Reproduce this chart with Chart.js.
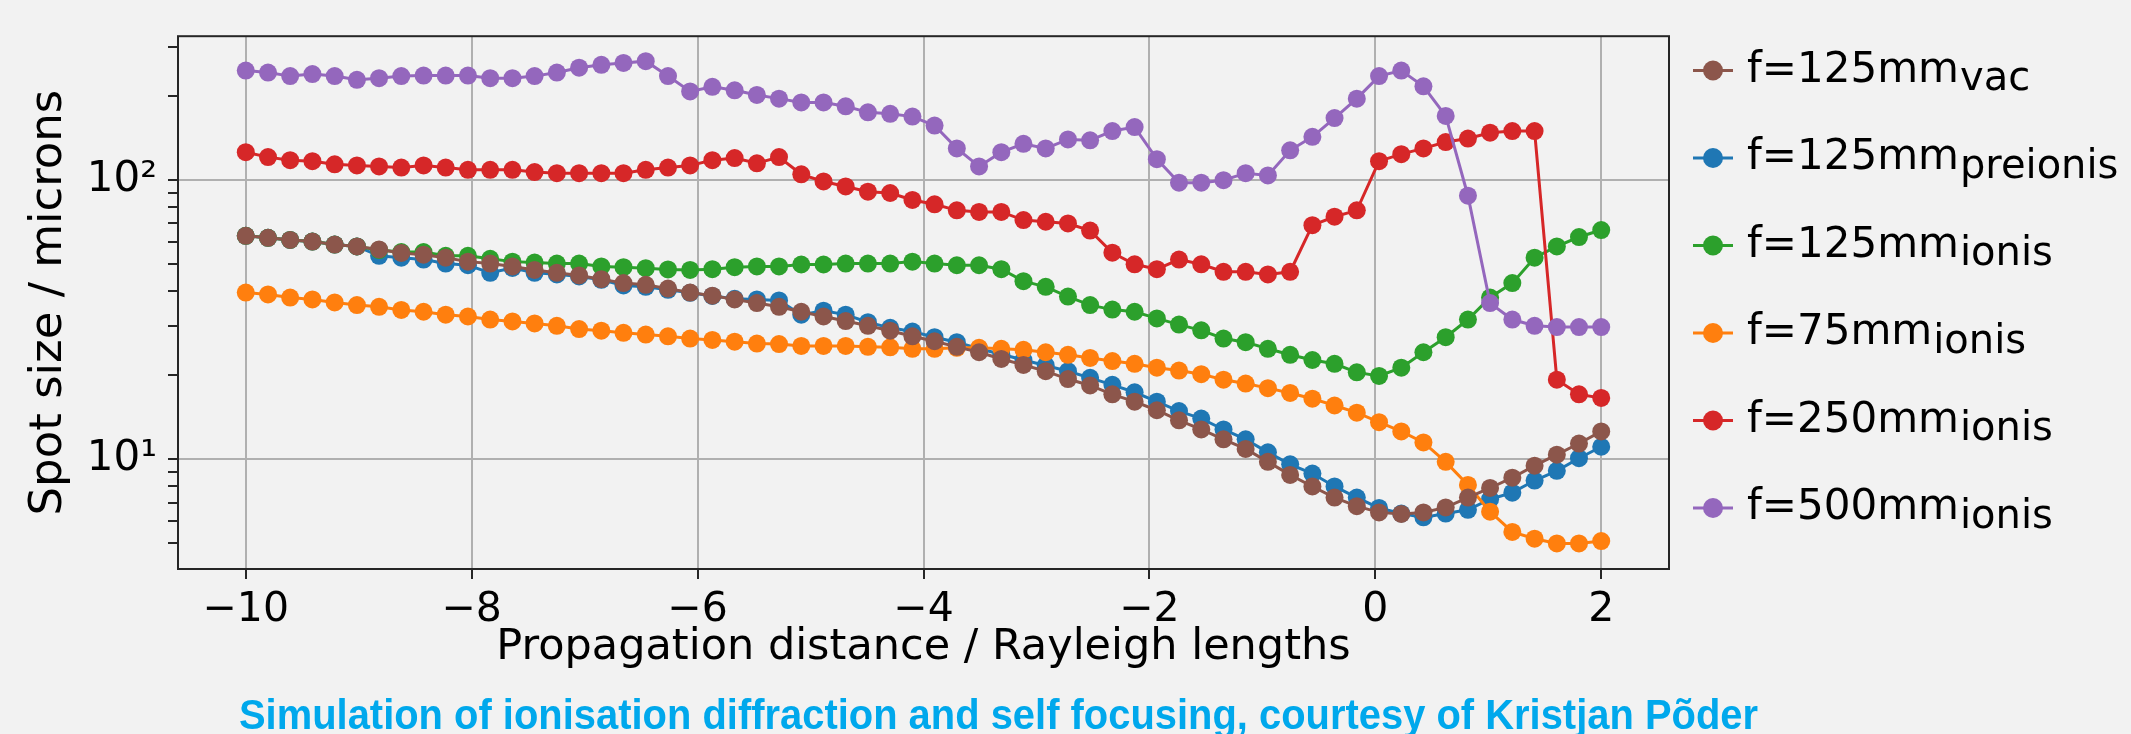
<!DOCTYPE html>
<html>
<head>
<meta charset="utf-8">
<script src="https://cdn.jsdelivr.net/npm/chart.js@4.4.1/dist/chart.umd.min.js"></script>
<style>
  html, body { margin: 0; padding: 0; background: #f2f2f2; }
  #wrap { width: 2131px; height: 734px; position: relative; }
  canvas { display: block; }
</style>
</head>
<body>
<div id="wrap"><canvas id="c" width="2131" height="734"></canvas></div>
<script>
// ---------------- data ----------------
const xValues = [
  -10, -9.803, -9.607, -9.410, -9.213, -9.016, -8.820, -8.623, -8.426, -8.230,
  -8.033, -7.836, -7.639, -7.443, -7.246, -7.049, -6.852, -6.656, -6.459, -6.262,
  -6.066, -5.869, -5.672, -5.475, -5.279, -5.082, -4.885, -4.689, -4.492, -4.295,
  -4.098, -3.902, -3.705, -3.508, -3.311, -3.115, -2.918, -2.721, -2.525, -2.328,
  -2.131, -1.934, -1.738, -1.541, -1.344, -1.148, -0.951, -0.754, -0.557, -0.361,
  -0.164, 0.033, 0.230, 0.426, 0.623, 0.820, 1.016, 1.213, 1.410, 1.607,
  1.803, 2
];

const f125vac = [
  63.2, 62.2, 61.1, 60.3, 58.8, 57.9, 56.5, 54.9, 54.1, 52.8,
  51.1, 50.3, 49.1, 47.7, 46.6, 45.6, 44.2, 42.8, 42.2, 40.9,
  39.6, 38.6, 37.4, 36.3, 35.2, 33.8, 32.5, 31.3, 30.1, 28.9,
  27.6, 26.5, 25.3, 24.2, 22.9, 21.8, 20.7, 19.4, 18.4, 17.1,
  16.1, 15.0, 13.8, 12.8, 11.8, 10.9, 9.8, 8.8, 8.0, 7.3,
  6.8, 6.46, 6.38, 6.46, 6.73, 7.3, 7.9, 8.6, 9.5, 10.4,
  11.4, 12.6
];

const f125preionis = [
  63.2, 62.2, 61.1, 60.3, 58.8, 57.9, 53.6, 52.8, 52.0, 50.3,
  49.6, 46.6, 48.5, 46.6, 46.0, 45.2, 44.0, 42.0, 41.5, 40.5,
  39.5, 38.5, 37.6, 37.4, 37.1, 33.0, 34.1, 33.0, 31.0, 29.6,
  28.7, 27.4, 26.3, 24.9, 23.8, 22.7, 21.7, 20.7, 19.6, 18.5,
  17.4, 16.1, 14.9, 14.0, 12.8, 11.8, 10.6, 9.6, 8.9, 8.0,
  7.3, 6.7, 6.4, 6.2, 6.4, 6.6, 7.2, 7.6, 8.4, 9.1,
  10.1, 11.1
];

const f125ionis = [
  63.2, 62.2, 61.1, 60.3, 58.8, 57.9, 56.2, 55.3, 55.3, 53.6,
  53.6, 52.3, 51.1, 50.7, 50.3, 50.3, 49.1, 48.8, 48.4, 47.9,
  47.7, 48.0, 48.8, 49.1, 49.1, 49.9, 49.9, 50.3, 50.3, 50.3,
  51.1, 50.3, 49.6, 49.6, 48.0, 43.5, 41.5, 38.3, 35.7, 34.4,
  33.8, 32.0, 30.4, 29.0, 27.1, 26.3, 24.9, 23.7, 22.7, 22.0,
  20.5, 19.9, 21.3, 24.2, 27.4, 31.7, 38.0, 42.8, 52.8, 57.9,
  62.6, 66.3
];

const f75ionis = [
  39.6, 39.0, 38.0, 37.4, 36.5, 35.7, 35.2, 34.3, 33.8, 33.0,
  32.5, 31.7, 31.2, 30.7, 30.1, 29.3, 28.9, 28.4, 28.0, 27.6,
  27.1, 26.8, 26.4, 26.0, 25.9, 25.5, 25.5, 25.5, 25.3, 25.2,
  24.9, 24.9, 25.1, 25.1, 24.9, 24.7, 24.2, 23.7, 23.1, 22.5,
  22.0, 21.3, 20.8, 20.2, 19.3, 18.7, 18.0, 17.3, 16.5, 15.6,
  14.7, 13.6, 12.6, 11.5, 9.8, 8.1, 6.5, 5.5, 5.2, 5.0,
  5.0, 5.1
];

const f250ionis = [
  126, 121, 118, 117, 114, 113, 112, 111, 113, 111,
  109, 109, 109, 107, 106, 106, 106, 106, 109, 111,
  113, 118, 120, 115, 121, 105, 99, 95, 91, 90,
  85, 82, 78, 77, 77, 72, 71, 70, 66, 55,
  50, 48, 52, 50, 47, 47, 46, 47, 69, 74,
  78, 117, 124, 130, 137, 141, 148, 150, 150, 19.3,
  17.1, 16.6
];

const f500ionis = [
  247, 243, 236, 240, 236, 229, 232, 236, 237, 237,
  237, 232, 232, 236, 243, 253, 259, 263, 267, 236,
  208, 216, 210, 202, 196, 190, 190, 184, 175, 173,
  169, 157, 130, 112, 126, 135, 130, 140, 139, 150,
  155, 119, 98, 98, 100, 106, 104, 128, 143, 167,
  196, 236, 247, 217, 170, 88, 36.3, 31.7, 30.1, 29.8,
  29.8, 29.8
];

const seriesValues = [f125vac, f125preionis, f125ionis, f75ionis, f250ionis, f500ionis];
const seriesNames  = ['f=125mm', 'f=125mm', 'f=125mm', 'f=75mm', 'f=250mm', 'f=500mm'];
const seriesSubs   = ['vac', 'preionis', 'ionis', 'ionis', 'ionis', 'ionis'];

const xTicks = [-10, -8, -6, -4, -2, 0, 2];
const yTicks = [5, 6, 7, 8, 9, 10, 20, 30, 40, 50, 60, 70, 80, 90, 100, 200, 300];
const yMajorLabels = { 10: '10\u00B9', 100: '10\u00B2' };

const xTitle = 'Propagation distance / Rayleigh lengths';
const yTitle = 'Spot size / microns';
const captionText = 'Simulation of ionisation diffraction and self focusing, courtesy of Kristjan P\u00F5der';

// ---------------- styles ----------------
const seriesColors = ['#8c564b', '#1f77b4', '#2ca02c', '#ff7f0e', '#d62728', '#9467bd'];
const zOrder = [0, 5, 3, 4, 2, 1]; // lower = drawn on top (brown top, blue bottom)
const FONT = "'DejaVu Sans', sans-serif";

const framePlugin = {
  id: 'frame',
  afterDatasetsDraw(chart) {
    const { ctx, chartArea: a } = chart;
    ctx.save();
    ctx.strokeStyle = '#262626';
    ctx.lineWidth = 2;
    ctx.strokeRect(a.left, a.top, a.right - a.left, a.bottom - a.top);
    ctx.restore();
  }
};

const subLegendPlugin = {
  id: 'subLegend',
  afterDraw(chart) {
    const ctx = chart.ctx;
    const x0 = 1693, x1 = 1733, xm = 1713, tx = 1747;
    chart.data.datasets.forEach((ds, row) => {
      const cy = 70.5 + row * 87.5;
      ctx.save();
      ctx.strokeStyle = ds.borderColor;
      ctx.lineWidth = 3;
      ctx.beginPath();
      ctx.moveTo(x0, cy);
      ctx.lineTo(x1, cy);
      ctx.stroke();
      ctx.fillStyle = ds.borderColor;
      ctx.beginPath();
      ctx.arc(xm, cy, 10, 0, Math.PI * 2);
      ctx.fill();
      ctx.fillStyle = '#000';
      ctx.textBaseline = 'alphabetic';
      ctx.textAlign = 'left';
      ctx.font = '42px ' + FONT;
      ctx.fillText(ds.mainLabel, tx, cy + 11);
      const w = ctx.measureText(ds.mainLabel).width;
      ctx.font = '40px ' + FONT;
      ctx.fillText(ds.subLabel, tx + w + 1, cy + 19.5);
      ctx.restore();
    });
  }
};

const captionPlugin = {
  id: 'caption',
  afterDraw(chart) {
    const ctx = chart.ctx;
    ctx.save();
    ctx.fillStyle = '#00a8ec';
    ctx.font = "bold 43px 'Liberation Sans', Arial, sans-serif";
    ctx.textAlign = 'center';
    ctx.textBaseline = 'alphabetic';
    ctx.fillText(captionText, 998.5, 729, 1519);
    ctx.restore();
  }
};

const fmtX = v => (v < 0 ? '\u2212' + Math.abs(v) : String(v));

new Chart(document.getElementById('c').getContext('2d'), {
  type: 'line',
  data: {
    datasets: seriesValues.map((vals, k) => ({
      label: seriesNames[k] + seriesSubs[k],
      mainLabel: seriesNames[k],
      subLabel: seriesSubs[k],
      data: xValues.map((x, i) => ({ x: x, y: vals[i] })),
      borderColor: seriesColors[k],
      backgroundColor: seriesColors[k],
      pointBackgroundColor: seriesColors[k],
      pointBorderColor: seriesColors[k],
      pointBorderWidth: 0,
      pointRadius: 9,
      pointHoverRadius: 9,
      borderWidth: 3,
      tension: 0,
      fill: false,
      order: zOrder[k]
    }))
  },
  options: {
    responsive: false,
    animation: false,
    devicePixelRatio: 1,
    events: [],
    layout: { padding: { left: 0, top: 30, right: 462, bottom: 0 } },
    plugins: {
      legend: { display: false },
      title: { display: false },
      tooltip: { enabled: false }
    },
    scales: {
      x: {
        type: 'linear',
        min: -10.6,
        max: 2.6,
        afterBuildTicks: s => { s.ticks = xTicks.map(v => ({ value: v })); },
        afterFit: s => { s.height = 165; },
        ticks: {
          callback: v => fmtX(v),
          font: { family: FONT, size: 41 },
          color: '#000',
          padding: 7,
          maxRotation: 0,
          autoSkip: false
        },
        grid: {
          color: '#b0b0b0',
          lineWidth: 2,
          tickLength: 10,
          tickColor: '#262626',
          tickWidth: 2
        },
        border: { display: false },
        title: {
          display: true,
          text: xTitle,
          font: { family: FONT, size: 43 },
          color: '#000',
          padding: { top: 0, bottom: 60 }
        }
      },
      y: {
        type: 'logarithmic',
        min: 4.05,
        max: 328,
        afterBuildTicks: s => { s.ticks = yTicks.map(v => ({ value: v, major: v in yMajorLabels })); },
        afterFit: s => { s.width = 178; },
        ticks: {
          callback: v => (yMajorLabels[v] !== undefined ? yMajorLabels[v] : ''),
          font: { family: FONT, size: 42 },
          color: '#000',
          padding: 11,
          autoSkip: false
        },
        grid: {
          color: c => (c.tick && yMajorLabels[c.tick.value] !== undefined ? '#b0b0b0' : 'rgba(0,0,0,0)'),
          lineWidth: 2,
          tickLength: 10,
          tickColor: '#262626',
          tickWidth: 2
        },
        border: { display: false },
        title: {
          display: true,
          text: yTitle,
          font: { family: FONT, size: 45 },
          color: '#000',
          padding: { top: 22, bottom: 0 }
        }
      }
    }
  },
  plugins: [framePlugin, subLegendPlugin, captionPlugin]
});
</script>
</body>
</html>
